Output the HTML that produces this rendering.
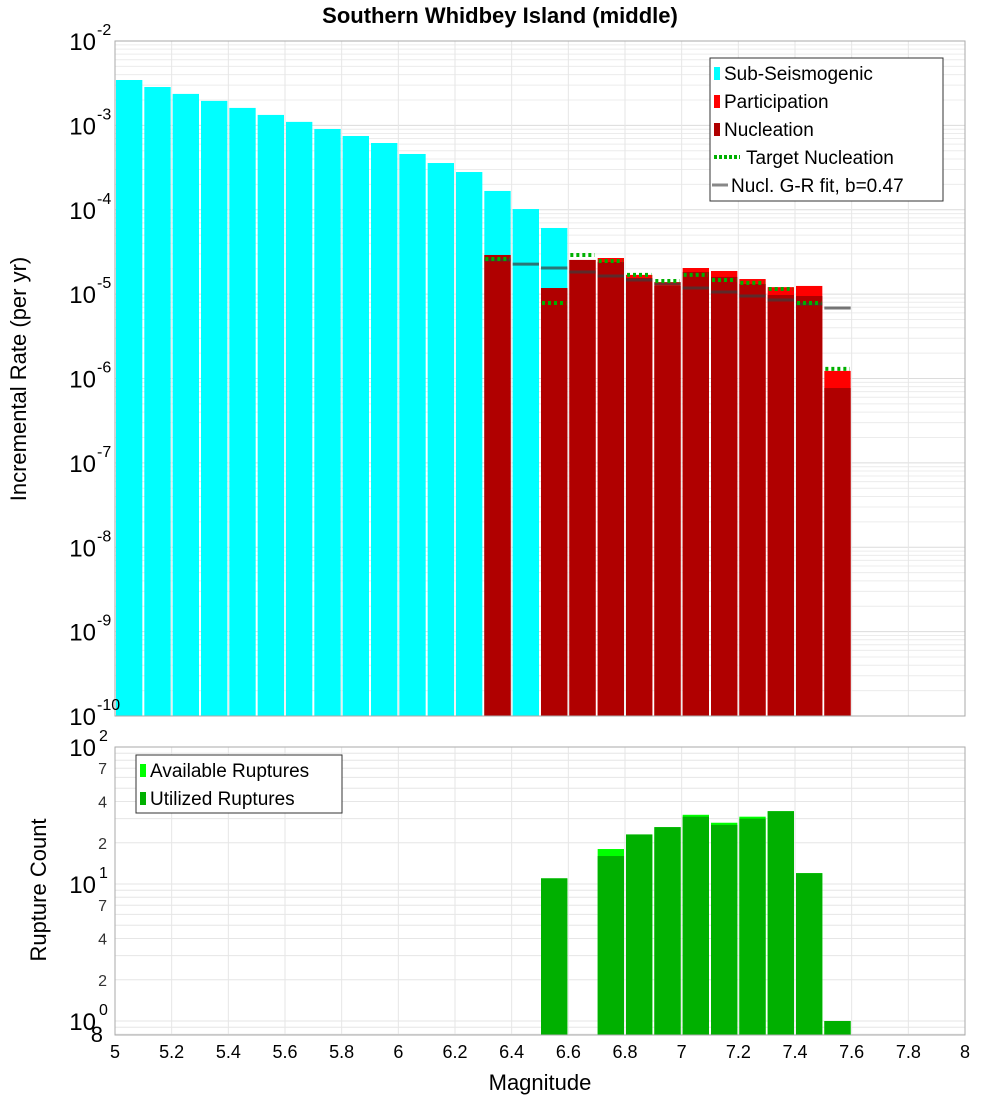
<!DOCTYPE html>
<html><head><meta charset="utf-8"><style>
body{margin:0;background:#fff;}
svg text{font-family:"Liberation Sans","DejaVu Sans",sans-serif;}
</style></head><body>
<svg id="chart" width="1000" height="1100" xmlns="http://www.w3.org/2000/svg">
<rect width="1000" height="1100" fill="#fff"/>
<text x="500" y="23" text-anchor="middle" font-size="22" font-weight="bold">Southern Whidbey Island (middle)</text>
<g id="topG"></g><g id="botG"></g>
<text transform="translate(26,379) rotate(-90)" text-anchor="middle" font-size="22">Incremental Rate (per yr)</text>
<text transform="translate(46,890) rotate(-90)" text-anchor="middle" font-size="22">Rupture Count</text>
<text x="540" y="1090" text-anchor="middle" font-size="22">Magnitude</text>
</svg>
<script>
// Data
const subMags = [5.0,5.1,5.2,5.3,5.4,5.5,5.6,5.7,5.8,5.9,6.0,6.1,6.2,6.3,6.4,6.5];
const subRates = [3.45e-3,2.85e-3,2.36e-3,1.95e-3,1.61e-3,1.33e-3,1.10e-3,9.06e-4,7.48e-4,6.18e-4,4.58e-4,3.58e-4,2.80e-4,1.67e-4,1.02e-4,6.08e-5];
const rupMags = [6.3,6.5,6.6,6.7,6.8,6.9,7.0,7.1,7.2,7.3,7.4,7.5];
const partRates = [2.91e-5,1.18e-5,2.54e-5,2.68e-5,1.69e-5,1.39e-5,2.04e-5,1.88e-5,1.51e-5,1.21e-5,1.25e-5,1.23e-6];
const nuclRates = [2.91e-5,1.18e-5,2.54e-5,2.40e-5,1.55e-5,1.25e-5,1.83e-5,1.60e-5,1.32e-5,9.77e-6,9.50e-6,7.71e-7];
const targetRates = [2.61e-5,7.85e-6,2.91e-5,2.47e-5,1.69e-5,1.43e-5,1.69e-5,1.47e-5,1.36e-5,1.15e-5,7.85e-6,1.30e-6];
const grMags = [6.3,6.4,6.5,6.6,6.7,6.8,6.9,7.0,7.1,7.2,7.3,7.4,7.5];
const grRates = [2.54e-5,2.27e-5,2.04e-5,1.83e-5,1.64e-5,1.47e-5,1.32e-5,1.18e-5,1.06e-5,9.50e-6,8.51e-6,7.63e-6,6.85e-6];
const cntMags = [6.5,6.7,6.8,6.9,7.0,7.1,7.2,7.3,7.4,7.5];
const availCounts = [11,18,23,26,32,28,31,34,12,1];
const usedCounts = [11,16,23,26,31,27,30,34,12,1];
const xTicks = ["5","5.2","5.4","5.6","5.8","6","6.2","6.4","6.6","6.8","7","7.2","7.4","7.6","7.8","8"];

const NS="http://www.w3.org/2000/svg";
const X0=115,X1=965;
const x=m=>X0+(m-5)/3*(X1-X0);
const T0=41,T1=716;
const yT=v=>T0+(-2-Math.log10(v))*(T1-T0)/8;
const B0=747,BD=137,B1=1035;
const yB=v=>B0+(2-Math.log10(v))*BD;
function mk(p,tag,a){const e=document.createElementNS(NS,tag);for(const k in a)e.setAttribute(k,a[k]);p.appendChild(e);return e;}
const topG=document.getElementById('topG'),botG=document.getElementById('botG');

for(let d=-10;d<-2;d++)for(let k=1;k<10;k++){const y=yT(k*Math.pow(10,d));
 const l=mk(topG,'line',{x1:X0,x2:X1,y1:y,y2:y,stroke:k==1?'#dcdcdc':'#ececec','stroke-width':1});
 
 }
for(let i=0;i<=15;i++){const xx=x(5+i*0.2);
 const l=mk(topG,'line',{x1:xx,x2:xx,y1:T0,y2:T1,stroke:'#e6e6e6'});
 
 
 const l2=mk(botG,'line',{x1:xx,x2:xx,y1:B0,y2:B1,stroke:'#e6e6e6'});
 
 }
for(let d=-1;d<2;d++)for(let k=1;k<10;k++){const v=k*Math.pow(10,d);const y=yB(v);if(y>B1||y<B0)continue;
 const l=mk(botG,'line',{x1:X0,x2:X1,y1:y,y2:y,stroke:'#e6e6e6'});
 
 }

function bar(p,m,v,yf,bottom,fill,name){const h=bottom-yf(v);
 const r=mk(p,'rect',{x:x(m)+1,y:yf(v),width:x(m+0.1)-x(m)-2,height:h,fill:fill});
 
 }
subMags.forEach((m,i)=>bar(topG,m,subRates[i],yT,T1,'#00ffff','sub-seismogenic-bar'));
rupMags.forEach((m,i)=>bar(topG,m,partRates[i],yT,T1,'#ff0000','participation-bar'));
rupMags.forEach((m,i)=>bar(topG,m,nuclRates[i],yT,T1,'#b00000','nucleation-bar'));
grMags.forEach((m,i)=>{const y=yT(grRates[i]);
 const l=mk(topG,'line',{x1:x(m)+1,x2:x(m+0.1)-1,y1:y,y2:y,stroke:'rgba(60,60,60,0.7)','stroke-width':3});
 
 });
rupMags.forEach((m,i)=>{const y=yT(targetRates[i]);
 const l=mk(topG,'line',{x1:x(m)+2,x2:x(m+0.1)-2,y1:y,y2:y,stroke:'#00b000','stroke-width':4,'stroke-dasharray':'3,3'});
 
 });
cntMags.forEach((m,i)=>bar(botG,m,availCounts[i],yB,B1,'#00ff00','available-ruptures-bar'));
cntMags.forEach((m,i)=>bar(botG,m,usedCounts[i],yB,B1,'#00b000','utilized-ruptures-bar'));

const f1=mk(topG,'rect',{x:X0,y:T0,width:X1-X0,height:T1-T0,fill:'none',stroke:'#aaa'});


const f2=mk(botG,'rect',{x:X0,y:B0,width:X1-X0,height:B1-B0,fill:'none',stroke:'#aaa'});



for(let d=-10;d<=-2;d++){const y=yT(Math.pow(10,d));
 const t=mk(topG,'text',{x:96,y:y+9,'text-anchor':'end','font-size':24});t.textContent='10';
 
 
 const s=mk(topG,'text',{x:97,y:y-6,'font-size':16});s.textContent=String(d);
 
 }
[2,1,0].forEach(d=>{const y=yB(Math.pow(10,d));
 const t=mk(botG,'text',{x:96,y:y+9,'text-anchor':'end','font-size':24});t.textContent='10';
 
 
 const s=mk(botG,'text',{x:99,y:y-6,'font-size':16});s.textContent=String(d);
 
 });
[[70,'7'],[40,'4'],[20,'2'],[7,'7'],[4,'4'],[2,'2']].forEach(([v,s])=>{
 const t=mk(botG,'text',{x:107,y:yB(v)+6,'text-anchor':'end','font-size':16,fill:'#333'});t.textContent=s;
 
 });
const e8=mk(botG,'text',{x:103,y:1042,'text-anchor':'end','font-size':22});e8.textContent='8';


xTicks.forEach(s=>{const t=mk(botG,'text',{x:x(parseFloat(s)),y:1058,'text-anchor':'middle','font-size':18});t.textContent=s;
 
 });

function legend(p,lx,ly,w,h,items,name){const g=mk(p,'g',{});
 
 
 mk(g,'rect',{x:lx,y:ly,width:w,height:h,fill:'#fff',stroke:'#333'});
 items.forEach((it,i)=>{const cy=ly+15+i*28;
  if(it.type==='sq'){mk(g,'rect',{x:lx+4,y:cy-6,width:6,height:13,fill:it.c});}
  else if(it.type==='dot'){mk(g,'line',{x1:lx+4,x2:lx+30,y1:cy,y2:cy,stroke:it.c,'stroke-width':4,'stroke-dasharray':'3,2'});}
  else {mk(g,'line',{x1:lx+2,x2:lx+18,y1:cy,y2:cy,stroke:it.c,'stroke-width':3});}
  const t=mk(g,'text',{x:lx+it.tx,y:cy+7,'font-size':19});t.textContent=it.t;
  
  });}
legend(topG,710,58,233,143,[
 {type:'sq',c:'#00ffff',t:'Sub-Seismogenic',tx:14},
 {type:'sq',c:'#ff0000',t:'Participation',tx:14},
 {type:'sq',c:'#b00000',t:'Nucleation',tx:14},
 {type:'dot',c:'#00b000',t:'Target Nucleation',tx:36},
 {type:'ln',c:'#888',t:'Nucl. G-R fit, b=0.47',tx:21}],'top-legend');
legend(botG,136,755,206,58,[
 {type:'sq',c:'#00ff00',t:'Available Ruptures',tx:14},
 {type:'sq',c:'#00b000',t:'Utilized Ruptures',tx:14}],'bottom-legend');
</script>
</body></html>
